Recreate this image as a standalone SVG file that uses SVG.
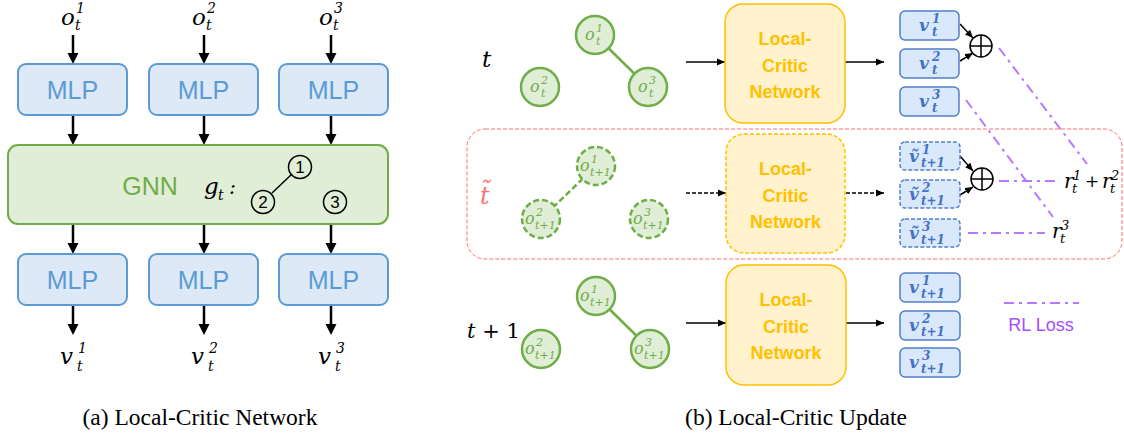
<svg xmlns="http://www.w3.org/2000/svg" width="1124" height="439" viewBox="0 0 1124 439">
<defs>
<style>
.mlp{fill:#dde9f6;stroke:#5b9bd5;stroke-width:2}
.mlpt{font-size:25px;fill:#5b9bd5;text-anchor:middle}
.gnn{fill:#e0eed8;stroke:#70ad47;stroke-width:2}
.m{font-style:italic;fill:#000}
.big{font-size:23px}
.sm{font-size:14px}
.arw{stroke:#000;stroke-width:2.5;fill:none}
.ah{fill:#000}
.gc{fill:#e0eed8;stroke:#70ad47;stroke-width:2.5}
.gcd{fill:#e0eed8;stroke:#70ad47;stroke-width:2.5;stroke-dasharray:6 3}
.gt{font-style:italic;fill:#70ad47}
.gb{font-size:16px}
.gs{font-size:11px}
.lc{fill:#fff2cc;stroke:#ffc000;stroke-width:1.5}
.lcd{fill:#fff2cc;stroke:#ffc000;stroke-width:1.5;stroke-dasharray:4 2}
.lct{font-size:18px;font-weight:bold;fill:#ffc000;text-anchor:middle}
.vb{fill:#dae8fc;stroke:#4f7fc8;stroke-width:1.5}
.vbd{fill:#dae8fc;stroke:#4f7fc8;stroke-width:1.5;stroke-dasharray:4 2}
.vt{font-style:italic;font-weight:bold;fill:#4472c4}
.vB{font-size:17px}
.vS{font-size:12px}
.thin{stroke:#000;stroke-width:1.5;fill:none}
.thind{stroke:#000;stroke-width:1.5;fill:none;stroke-dasharray:4 2}
.rl{stroke:#b57aff;stroke-width:2;fill:none;stroke-dasharray:10 5 3 5}
.cap{font-size:23.5px;fill:#000;text-anchor:middle}
</style>
<marker id="sa" markerWidth="8" markerHeight="8" refX="8" refY="4" orient="auto" markerUnits="userSpaceOnUse"><path d="M0,0.5 L8,4 L0,7.5 z" fill="#000"/></marker>
</defs>

<!-- ================= (a) ================= -->
<g id="connectors-a">
<line class="arw" x1="73" y1="35" x2="73" y2="55"/><path class="ah" d="M67.5,53 L78.5,53 L73,64 z"/>
<line class="arw" x1="204" y1="35" x2="204" y2="55"/><path class="ah" d="M198.5,53 L209.5,53 L204,64 z"/>
<line class="arw" x1="331" y1="35" x2="331" y2="55"/><path class="ah" d="M325.5,53 L336.5,53 L331,64 z"/>
<line class="arw" x1="73" y1="116" x2="73" y2="136"/><path class="ah" d="M67.5,134 L78.5,134 L73,145 z"/>
<line class="arw" x1="204" y1="116" x2="204" y2="136"/><path class="ah" d="M198.5,134 L209.5,134 L204,145 z"/>
<line class="arw" x1="331" y1="116" x2="331" y2="136"/><path class="ah" d="M325.5,134 L336.5,134 L331,145 z"/>
<line class="arw" x1="73" y1="225" x2="73" y2="245"/><path class="ah" d="M67.5,243 L78.5,243 L73,254 z"/>
<line class="arw" x1="204" y1="225" x2="204" y2="245"/><path class="ah" d="M198.5,243 L209.5,243 L204,254 z"/>
<line class="arw" x1="331" y1="225" x2="331" y2="245"/><path class="ah" d="M325.5,243 L336.5,243 L331,254 z"/>
<line class="arw" x1="73" y1="306" x2="73" y2="326"/><path class="ah" d="M67.5,324 L78.5,324 L73,335 z"/>
<line class="arw" x1="204" y1="306" x2="204" y2="326"/><path class="ah" d="M198.5,324 L209.5,324 L204,335 z"/>
<line class="arw" x1="331" y1="306" x2="331" y2="326"/><path class="ah" d="M325.5,324 L336.5,324 L331,335 z"/>
</g>

<g id="inputs-a" font-family="'DejaVu Serif', serif">
<text class="m big" x="61" y="25">o</text><text class="m sm" x="76" y="13">1</text><text class="m sm" x="75" y="30">t</text>
<text class="m big" x="192" y="25">o</text><text class="m sm" x="207" y="13">2</text><text class="m sm" x="206" y="30">t</text>
<text class="m big" x="319" y="25">o</text><text class="m sm" x="334" y="13">3</text><text class="m sm" x="333" y="30">t</text>
</g>

<g font-family="'Liberation Sans', Arial, sans-serif">
<g id="mlp-top-1"><rect class="mlp" x="18" y="64" width="109" height="51" rx="8"/><text class="mlpt" x="72.5" y="99">MLP</text></g>
<g id="mlp-top-2"><rect class="mlp" x="149" y="64" width="109" height="51" rx="8"/><text class="mlpt" x="203.5" y="99">MLP</text></g>
<g id="mlp-top-3"><rect class="mlp" x="279" y="64" width="109" height="51" rx="8"/><text class="mlpt" x="333.5" y="99">MLP</text></g>
</g>

<g id="gnn">
<rect class="gnn" x="8" y="145" width="380" height="79" rx="10"/>
<text x="150" y="195" font-family="'Liberation Sans', Arial, sans-serif" font-size="25" fill="#70ad47" text-anchor="middle">GNN</text>
<g font-family="'DejaVu Serif', serif">
<text class="m" x="204" y="194" font-size="23">g</text><text class="m sm" x="218" y="200">t</text><text class="m" x="229" y="194" font-size="21" font-style="normal">:</text>
</g>
<line x1="292" y1="174" x2="272" y2="193" stroke="#000" stroke-width="1.5"/>
<g font-family="'Liberation Sans', Arial, sans-serif" font-size="17" text-anchor="middle">
<circle cx="300" cy="167" r="11.5" fill="none" stroke="#000" stroke-width="1.5"/>
<text x="300" y="173">1</text>
<circle cx="263" cy="202" r="11.5" fill="none" stroke="#000" stroke-width="1.5"/>
<text x="263" y="208">2</text>
<circle cx="335" cy="202" r="11.5" fill="none" stroke="#000" stroke-width="1.5"/>
<text x="335" y="208">3</text>
</g>
</g>

<g font-family="'Liberation Sans', Arial, sans-serif">
<g id="mlp-bot-1"><rect class="mlp" x="18" y="254" width="109" height="51" rx="8"/><text class="mlpt" x="72.5" y="289">MLP</text></g>
<g id="mlp-bot-2"><rect class="mlp" x="149" y="254" width="109" height="51" rx="8"/><text class="mlpt" x="203.5" y="289">MLP</text></g>
<g id="mlp-bot-3"><rect class="mlp" x="279" y="254" width="109" height="51" rx="8"/><text class="mlpt" x="333.5" y="289">MLP</text></g>
</g>

<g id="outputs-a" font-family="'DejaVu Serif', serif">
<text class="m big" x="60" y="364">v</text><text class="m sm" x="78" y="353">1</text><text class="m sm" x="77" y="371">t</text>
<text class="m big" x="191" y="364">v</text><text class="m sm" x="209" y="353">2</text><text class="m sm" x="208" y="371">t</text>
<text class="m big" x="318" y="364">v</text><text class="m sm" x="336" y="353">3</text><text class="m sm" x="335" y="371">t</text>
</g>

<text class="cap" font-family="'Liberation Serif', 'Times New Roman', serif" x="200" y="425">(a) Local-Critic Network</text>

<!-- ================= (b) ================= -->
<g id="container-tilde">
<rect x="467" y="129" width="655" height="130" rx="18" fill="none" stroke="#ff7070" stroke-width="1" stroke-dasharray="4 2"/>
<text x="480" y="204" font-family="'DejaVu Serif', serif" font-style="italic" font-size="24" fill="#ff7070">t̃</text>
</g>

<g id="connectors-b">
<line x1="595" y1="35" x2="648" y2="87" stroke="#70ad47" stroke-width="2.5"/>
<line x1="596" y1="166" x2="541" y2="219" stroke="#70ad47" stroke-width="2.5" stroke-dasharray="6 3"/>
<line x1="596" y1="296" x2="650" y2="349" stroke="#70ad47" stroke-width="2.5"/>
<line class="thin" x1="686" y1="62" x2="725" y2="62" marker-end="url(#sa)"/>
<line class="thin" x1="845" y1="62" x2="884" y2="62" marker-end="url(#sa)"/>
<line class="thind" x1="686" y1="193" x2="726" y2="193" marker-end="url(#sa)"/>
<line class="thind" x1="846" y1="193" x2="884" y2="193" marker-end="url(#sa)"/>
<line class="thin" x1="686" y1="323" x2="726" y2="323" marker-end="url(#sa)"/>
<line class="thin" x1="846" y1="323" x2="884" y2="323" marker-end="url(#sa)"/>
<line class="thin" x1="960" y1="24" x2="973" y2="38" marker-end="url(#sa)"/>
<line class="thin" x1="960" y1="61" x2="973" y2="53" marker-end="url(#sa)"/>
<line class="thin" x1="960" y1="156" x2="973" y2="171" marker-end="url(#sa)"/>
<line class="thin" x1="960" y1="195" x2="973" y2="187" marker-end="url(#sa)"/>
<line class="rl" x1="999" y1="48" x2="1087" y2="164"/>
<line class="rl" x1="966" y1="100" x2="1053" y2="217"/>
<line class="rl" x1="999" y1="181" x2="1057" y2="181"/>
<line class="rl" x1="968" y1="233" x2="1045" y2="233"/>
</g>

<g id="row-t">
<text class="m" font-family="'DejaVu Serif', serif" x="482" y="67" font-size="23">t</text>
<g font-family="'DejaVu Serif', serif">
<g id="o1-t"><circle class="gc" cx="595" cy="35" r="19"/><text class="gt gb" x="585" y="40">o</text><text class="gt gs" x="596" y="32">1</text><text class="gt gs" x="596" y="45">t</text></g>
<g id="o2-t"><circle class="gc" cx="540" cy="87" r="19"/><text class="gt gb" x="530" y="92">o</text><text class="gt gs" x="541" y="84">2</text><text class="gt gs" x="541" y="97">t</text></g>
<g id="o3-t"><circle class="gc" cx="648" cy="87" r="19"/><text class="gt gb" x="638" y="92">o</text><text class="gt gs" x="649" y="84">3</text><text class="gt gs" x="649" y="97">t</text></g>
</g>
<g id="lc-t" font-family="'Liberation Sans', Arial, sans-serif"><rect class="lc" x="725" y="4" width="120" height="119" rx="18"/><text class="lct" x="785" y="45">Local-</text><text class="lct" x="785" y="72">Critic</text><text class="lct" x="785" y="98">Network</text></g>
<g font-family="'DejaVu Serif', serif">
<g id="v1-t"><rect class="vb" x="900" y="11" width="59" height="29" rx="5"/><text class="vt vB" x="919" y="31">v</text><text class="vt vS" x="932" y="23">1</text><text class="vt vS" x="932" y="36">t</text></g>
<g id="v2-t"><rect class="vb" x="900" y="49" width="59" height="29" rx="5"/><text class="vt vB" x="919" y="69">v</text><text class="vt vS" x="932" y="61">2</text><text class="vt vS" x="932" y="74">t</text></g>
<g id="v3-t"><rect class="vb" x="900" y="87" width="59" height="29" rx="5"/><text class="vt vB" x="919" y="107">v</text><text class="vt vS" x="932" y="99">3</text><text class="vt vS" x="932" y="112">t</text></g>
</g>
<g id="sum-t"><circle cx="981" cy="46" r="11" fill="#fff" stroke="#000" stroke-width="1.5"/><path d="M970,46 H992 M981,35 V57" stroke="#000" stroke-width="1.5"/></g>
</g>

<g id="row-tilde">
<g font-family="'DejaVu Serif', serif">
<g id="o1-tt"><circle class="gcd" cx="596" cy="166" r="19"/><text class="gt gb" x="580" y="171">o</text><text class="gt gs" x="591" y="163">1</text><text class="gt gs" x="590" y="176">t+1</text></g>
<g id="o2-tt"><circle class="gcd" cx="541" cy="219" r="19"/><text class="gt gb" x="525" y="224">o</text><text class="gt gs" x="536" y="216">2</text><text class="gt gs" x="535" y="229">t+1</text></g>
<g id="o3-tt"><circle class="gcd" cx="649" cy="219" r="19"/><text class="gt gb" x="633" y="224">o</text><text class="gt gs" x="644" y="216">3</text><text class="gt gs" x="643" y="229">t+1</text></g>
</g>
<g id="lc-tt" font-family="'Liberation Sans', Arial, sans-serif"><rect class="lcd" x="726" y="134" width="119" height="119" rx="18"/><text class="lct" x="785.5" y="175">Local-</text><text class="lct" x="785.5" y="202">Critic</text><text class="lct" x="785.5" y="228">Network</text></g>
<g font-family="'DejaVu Serif', serif">
<g id="v1-tt"><rect class="vbd" x="900" y="142" width="60" height="28" rx="5"/><text class="vt vB" x="909" y="162">ṽ</text><text class="vt vS" x="922" y="154">1</text><text class="vt vS" x="921" y="167">t+1</text></g>
<g id="v2-tt"><rect class="vbd" x="900" y="180" width="60" height="28" rx="5"/><text class="vt vB" x="909" y="200">ṽ</text><text class="vt vS" x="922" y="192">2</text><text class="vt vS" x="921" y="205">t+1</text></g>
<g id="v3-tt"><rect class="vbd" x="900" y="219" width="60" height="28" rx="5"/><text class="vt vB" x="909" y="239">ṽ</text><text class="vt vS" x="922" y="231">3</text><text class="vt vS" x="921" y="244">t+1</text></g>
</g>
<g id="sum-tt"><circle cx="982" cy="179" r="11" fill="#fff" stroke="#000" stroke-width="1.5"/><path d="M971,179 H993 M982,168 V190" stroke="#000" stroke-width="1.5"/></g>
<g font-family="'DejaVu Serif', serif">
<g id="r12"><text class="m" x="1064" y="188" font-size="20">r</text><text class="m" x="1073" y="180" font-size="13">1</text><text class="m" x="1072" y="193" font-size="13">t</text><text x="1085" y="187" font-size="17">+</text><text class="m" x="1102" y="188" font-size="20">r</text><text class="m" x="1111" y="180" font-size="13">2</text><text class="m" x="1110" y="193" font-size="13">t</text></g>
<g id="r3"><text class="m" x="1052" y="238" font-size="20">r</text><text class="m" x="1061" y="230" font-size="13">3</text><text class="m" x="1060" y="243" font-size="13">t</text></g>
</g>
</g>

<g id="row-t1">
<text x="467" y="338" font-family="'DejaVu Serif', serif" font-size="21"><tspan font-style="italic">t</tspan> + 1</text>
<g font-family="'DejaVu Serif', serif">
<g id="o1-t1"><circle class="gc" cx="596" cy="296" r="19"/><text class="gt gb" x="580" y="301">o</text><text class="gt gs" x="591" y="293">1</text><text class="gt gs" x="590" y="306">t+1</text></g>
<g id="o2-t1"><circle class="gc" cx="541" cy="349" r="19"/><text class="gt gb" x="525" y="354">o</text><text class="gt gs" x="536" y="346">2</text><text class="gt gs" x="535" y="359">t+1</text></g>
<g id="o3-t1"><circle class="gc" cx="650" cy="349" r="19"/><text class="gt gb" x="634" y="354">o</text><text class="gt gs" x="645" y="346">3</text><text class="gt gs" x="644" y="359">t+1</text></g>
</g>
<g id="lc-t1" font-family="'Liberation Sans', Arial, sans-serif"><rect class="lc" x="726" y="265" width="120" height="120" rx="18"/><text class="lct" x="786" y="306">Local-</text><text class="lct" x="786" y="333">Critic</text><text class="lct" x="786" y="359">Network</text></g>
<g font-family="'DejaVu Serif', serif">
<g id="v1-t1"><rect class="vb" x="900" y="273" width="60" height="29" rx="5"/><text class="vt vB" x="909" y="293">v</text><text class="vt vS" x="922" y="285">1</text><text class="vt vS" x="921" y="298">t+1</text></g>
<g id="v2-t1"><rect class="vb" x="900" y="311" width="60" height="29" rx="5"/><text class="vt vB" x="909" y="331">v</text><text class="vt vS" x="922" y="323">2</text><text class="vt vS" x="921" y="336">t+1</text></g>
<g id="v3-t1"><rect class="vb" x="900" y="348" width="60" height="29" rx="5"/><text class="vt vB" x="909" y="368">v</text><text class="vt vS" x="922" y="360">3</text><text class="vt vS" x="921" y="373">t+1</text></g>
</g>
</g>

<g id="legend">
<line class="rl" x1="1004" y1="303" x2="1079" y2="303"/>
<text x="1041" y="331" font-family="'Liberation Sans', Arial, sans-serif" font-size="18" fill="#a64dff" text-anchor="middle">RL Loss</text>
</g>

<text class="cap" font-family="'Liberation Serif', 'Times New Roman', serif" x="796" y="425">(b) Local-Critic Update</text>
</svg>
